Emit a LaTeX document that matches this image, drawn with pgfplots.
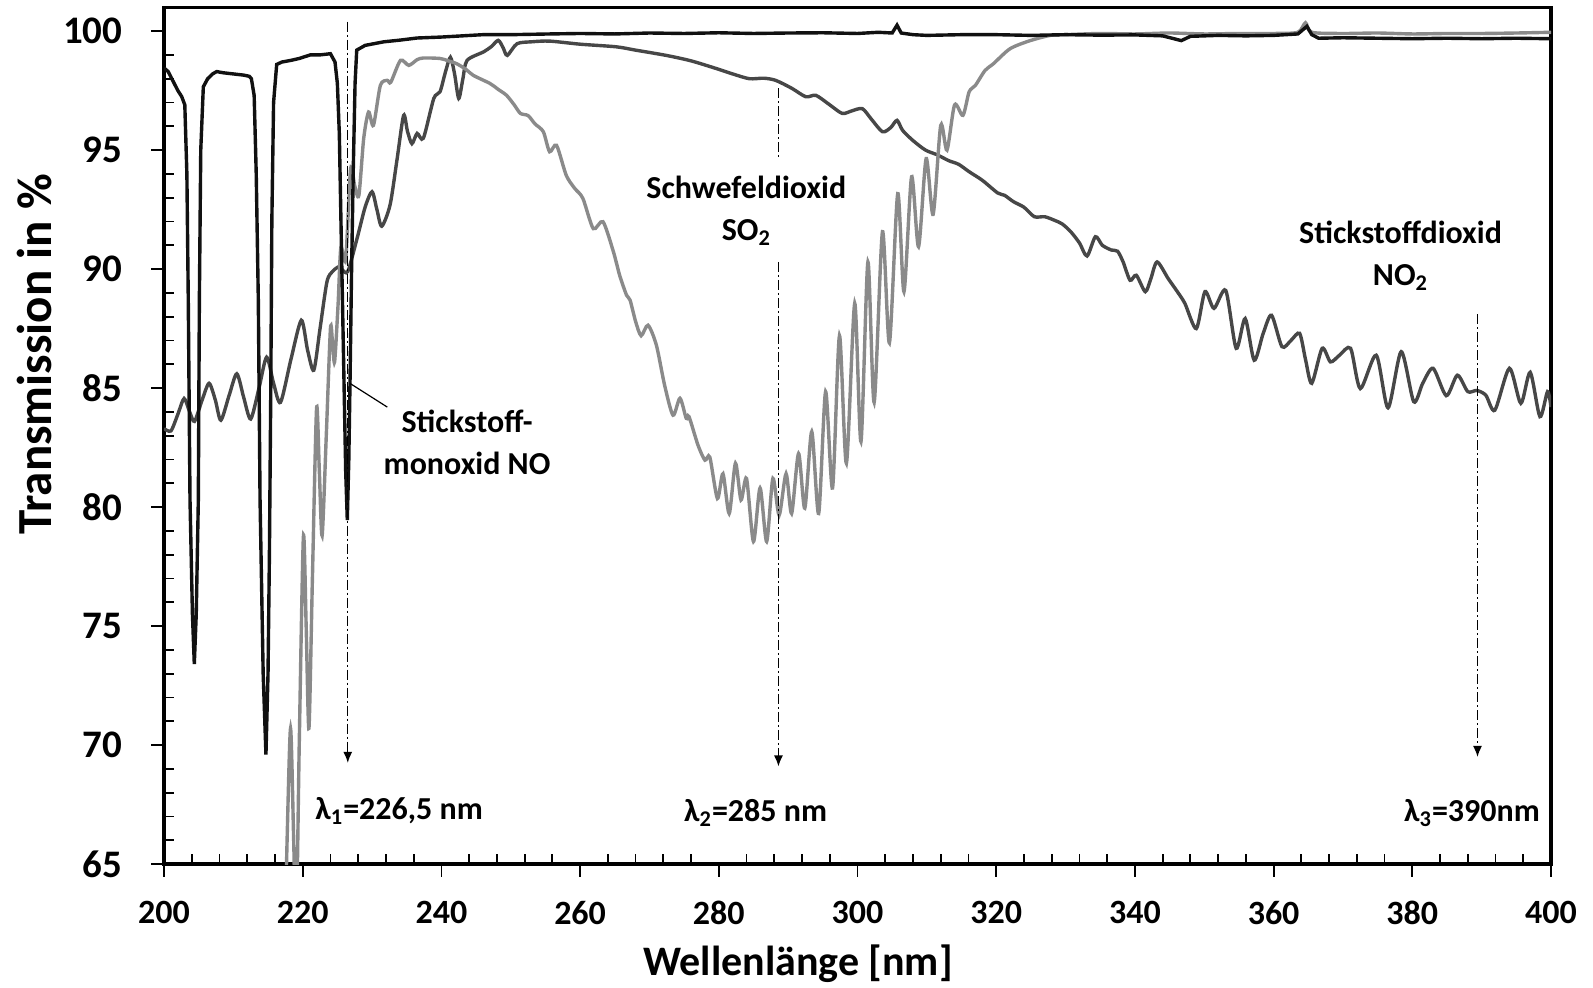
\documentclass[border=0pt]{standalone}
\usepackage{fontspec}
\setmainfont{Carlito}
\usepackage{pgfplots}
\pgfplotsset{compat=1.18}
\usetikzlibrary{arrows.meta}
\definecolor{noc}{HTML}{111111}
\definecolor{notwo}{HTML}{474747}
\definecolor{sotwo}{HTML}{8A8A8A}
\begin{document}
\begin{tikzpicture}
\path[use as bounding box] (0,0) rectangle (796.5pt,493.5pt);
\begin{axis}[
  name=ax, at={(82pt,61.5pt)}, anchor=south west,
  scale only axis, width=693.5pt, height=428.35pt,
  xmin=200, xmax=400, ymin=65, ymax=101,
  xtick={200,220,...,400}, ytick={65,70,...,100},
  minor x tick num=4, minor y tick num=4,
  xtick pos=bottom, ytick pos=left,
  tick align=inside,
  major tick length=-6.4pt, minor tick length=4.8pt,
  axis line style={line width=1.6pt},
  every tick/.style={black, line width=0.9pt},
  /pgf/number format/assume math mode=true,
  xticklabel style={font=\bfseries\fontsize{17}{20}\selectfont, anchor=center, inner sep=0pt, yshift=-24.3pt},
  yticklabel style={font=\bfseries\fontsize{19.5}{22}\selectfont, anchor=east, inner sep=0pt, xshift=-20.6pt},
  xlabel={Wellenlänge [nm]},
  xlabel style={at={(axis description cs:0.457,-0.1296)}, anchor=base, font=\bfseries\fontsize{21}{25}\selectfont},
  ylabel={Transmission in \%},
  ylabel style={at={(axis description cs:-0.0931,0.595)}, anchor=center, font=\bfseries\fontsize{24.5}{28}\selectfont},
]
% NO2 (dark gray)
\addplot[notwo, line width=1.7pt, smooth, tension=0.45] coordinates {
(200,83.3) (201.0,83.2) (202.0,83.9) (202.9,84.56) (203.7,84.0) (204.4,83.6) (205.5,84.5) (206.5,85.2) (207.4,84.5) (208.2,83.65)
(209.4,84.7) (210.5,85.6) (211.5,84.6) (212.5,83.7) (213.7,85.0) (214.8,86.3) (215.8,85.2) (216.8,84.4) (218.3,86.2) (219.8,87.85)
(220.7,86.6) (221.6,85.75) (222.5,87.5) (223.5,89.47) (224.3,89.9) (225.2,90.1) (225.6,90.0) (226.5,89.9) (227.85,91.3) (229.0,92.6)
(230.0,93.25) (230.7,92.5) (231.4,91.8) (232.6,92.7) (233.6,94.6) (234.55,96.46) (235.1,95.8) (235.75,95.27) (236.5,95.7) (237.4,95.5)
(238.9,97.17) (239.8,97.45) (240.6,98.3) (241.3,98.9) (241.9,98.2) (242.5,97.17) (243.1,98.0) (243.7,98.77) (246.1,99.13) (247.2,99.35)
(248.2,99.61) (248.9,99.3) (249.5,98.98) (250.9,99.47) (253,99.55) (255.6,99.58) (260,99.45) (265.2,99.34) (268,99.2) (272.4,98.98)
(276,98.75) (279.6,98.43) (282,98.2) (284.4,98.0) (286.5,98.02) (288.2,97.93) (290.5,97.6) (292.55,97.24) (294,97.3) (296,96.9)
(297.8,96.54) (299.2,96.65) (300.7,96.74) (302,96.3) (303.6,95.77) (304.8,95.95) (305.7,96.25) (306.5,95.83) (308,95.4) (309.8,95.0)
(311.5,94.8) (313.2,94.55) (314.6,94.4) (316.1,94.09) (318,93.73) (320.2,93.2) (321.2,93.1) (322.5,92.83) (324,92.6) (325.5,92.2)
(327,92.2) (328.4,92.05) (329.5,91.9) (330.75,91.57) (332,91.1) (333.1,90.55) (334.3,91.36) (335.3,91.0) (336.6,90.8) (337.5,90.75)
(338.3,90.3) (339.3,89.53) (340.2,89.74) (341.5,89.05) (342.3,89.6) (343.2,90.3) (344.8,89.6) (346.0,89.1) (347.2,88.56) (348.85,87.5)
(350.1,89.05) (351.4,88.35) (353.1,89.1) (354.6,86.67) (355.9,87.92) (357.2,86.17) (358.5,87.3) (359.7,88.06) (361.2,86.74) (362.5,87.0)
(363.75,87.3) (364.6,86.2) (365.5,85.2) (367.0,86.67) (368.2,86.1) (369.5,86.38) (371.1,86.67) (372.5,84.98) (374.8,86.38) (376.5,84.17)
(378.4,86.53) (380.2,84.43) (381.5,85.2) (383.0,85.83) (384.9,84.68) (386.5,85.54) (388.0,84.85) (389.3,84.9) (390.6,84.7) (391.9,84.07)
(394.0,85.83) (395.65,84.36) (397.0,85.66) (398.4,83.8) (399.5,84.85) (400,84.2)
};
% SO2 (light gray)
\addplot[sotwo, line width=1.7pt, smooth, tension=0.45] coordinates {
(217.3,60) (217.75,66) (218.25,70.7) (218.7,66) (219.05,62) (219.5,70) (220.1,78.75) (220.5,75) (220.9,70.7) (221.4,77)
(222.0,84.15) (222.4,81.5) (222.8,78.8) (223.4,83) (224.0,87.5) (224.3,86.9) (224.6,86.1) (225.1,88.5) (225.5,90.9) (226.2,90.4)
(226.9,94.2) (227.5,93.5) (228.1,93.1) (228.8,95.5) (229.5,96.6) (230.2,96.04) (231.2,97.72) (232.2,97.93) (232.7,97.85) (234.1,98.77)
(235.3,98.56) (236.5,98.8) (237.4,98.87) (239.8,98.85) (241.0,98.75) (242.2,98.63) (243.5,98.4) (244.6,98.14) (247.0,97.8) (248.2,97.55)
(249.4,97.3) (250.5,96.9) (251.4,96.54) (252.5,96.45) (253.5,96.1) (254.7,95.77) (255.6,94.93) (256.6,95.2) (258.0,93.94) (259.2,93.4)
(260.4,92.97) (261.9,91.7) (263.3,91.99) (264.8,90.73) (265.7,89.74) (266.7,88.9) (267.2,88.7) (268.0,87.8) (268.8,87.2) (269.8,87.64)
(271.0,86.8) (272.2,85.1) (273.4,83.86) (274.4,84.57) (275.3,83.73) (275.7,83.8) (277.0,82.6) (278.0,81.97) (278.7,82.1) (279.8,80.36)
(280.6,81.4) (281.5,79.73) (282.4,81.84) (283.2,80.3) (284.0,81.2) (285.0,78.55) (285.95,80.8) (286.9,78.55) (287.8,81.2) (288.7,79.66)
(289.7,81.4) (290.5,79.73) (291.5,82.25) (292.4,79.95) (293.4,83.17) (294.4,79.73) (295.4,84.85) (296.4,80.8) (297.4,87.2) (298.4,81.84)
(299.6,88.56) (300.5,82.75) (301.5,90.3) (302.4,84.4) (303.6,91.57) (304.6,86.9) (305.8,93.17) (306.7,89.05) (307.8,93.88) (308.8,90.94)
(309.9,94.64) (310.9,92.3) (312.0,96.04) (312.9,95.0) (314.0,96.9) (315.2,96.46) (316.1,97.45) (317.0,97.72) (318.4,98.35) (319.6,98.63)
(322.0,99.26) (324.9,99.6) (327.8,99.82) (330,99.85) (335,99.9) (340,99.88) (345,99.92) (350,99.88) (355,99.9) (360,99.9)
(363.5,99.95) (364.6,100.35) (365.5,99.95) (370,99.9) (375,99.92) (380,99.88) (385,99.9) (390,99.9) (395,99.92) (400,99.95)
};
% NO (black)
\addplot[noc, line width=1.7pt] coordinates {
(200,98.45) (200.6,98.3) (201.3,97.9) (202.0,97.5) (202.55,97.25) (203.0,96.9) (203.3,94) (203.5,88.7) (203.75,80.3) (204.1,75.5)
(204.37,73.4) (204.65,75.5) (204.95,80.3) (205.1,88.7) (205.3,95) (205.67,97.66) (206.3,98.0) (207.0,98.2) (207.6,98.3) (208.5,98.25)
(210,98.2) (211.5,98.15) (212.3,98.1) (212.6,98.0) (213.0,97.3) (213.3,94) (213.6,88.7) (213.85,80.3) (214.3,73) (214.7,69.6)
(215.0,73) (215.2,78) (215.4,85) (215.55,92) (215.8,97) (216.25,98.6) (217,98.7) (218.3,98.77) (219.5,98.85) (221.1,99.0)
(222.5,99.0) (224.0,99.05) (224.66,98.7) (225.0,97.8) (225.28,95.7) (225.62,90.4) (225.96,85.2) (226.2,81.5) (226.43,79.45) (226.65,82)
(226.82,85.2) (227.05,90) (227.3,94.3) (227.55,97.8) (227.79,99.2) (229,99.4) (231.7,99.55) (234,99.62) (236.5,99.71) (240,99.75)
(243,99.8) (246,99.85) (250,99.85) (255.6,99.88) (260,99.9) (265,99.88) (270,99.92) (275,99.9) (280,99.93) (285,99.9)
(290,99.92) (295,99.93) (300,99.9) (303,99.95) (305,99.92) (305.7,100.25) (306.3,99.92) (308,99.85) (310,99.82) (315,99.85)
(320,99.85) (325,99.82) (330,99.85) (335,99.83) (340,99.84) (344,99.8) (346.7,99.6) (348,99.78) (352,99.82) (356,99.8)
(360,99.82) (363.5,99.88) (364.8,100.2) (365.5,99.85) (366.5,99.7) (370,99.72) (375,99.7) (380,99.68) (385,99.7) (390,99.68)
(395,99.7) (400,99.68)
};
% wavelength markers
\addplot[black, line width=0.7pt, dash pattern=on 5pt off 1.5pt on 1pt off 1.5pt, -{Latex[length=5.5pt,width=4.5pt]}]
  coordinates {(226.5,100.4) (226.5,69.25)};
\addplot[black, line width=0.7pt, dash pattern=on 5pt off 1.5pt on 1pt off 1.5pt]
  coordinates {(288.6,97.6) (288.6,94.6)};
\addplot[black, line width=0.7pt, dash pattern=on 5pt off 1.5pt on 1pt off 1.5pt, -{Latex[length=5.5pt,width=4.5pt]}]
  coordinates {(288.6,90.3) (288.6,69.1)};
\addplot[black, line width=0.7pt, dash pattern=on 5pt off 1.5pt on 1pt off 1.5pt, -{Latex[length=5.5pt,width=4.5pt]}]
  coordinates {(389.4,88.1) (389.4,69.5)};
\addplot[black, line width=0.6pt] coordinates {(226.8,85.2) (232.2,84.2)};
% annotations
\node[font=\bfseries\fontsize{16}{21}\selectfont, align=center] at (axis cs:283.97,92.44) {Schwefeldioxid\\SO\textsubscript{2}};
\node[font=\bfseries\fontsize{16}{21}\selectfont, align=center] at (axis cs:378.3,90.55) {Stickstoffdioxid\\NO\textsubscript{2}};
\node[font=\bfseries\fontsize{16}{21}\selectfont, align=center] at (axis cs:243.7,82.73) {Stickstoff-\\monoxid NO};
\node[font=\bfseries\fontsize{16}{20}\selectfont] at (axis cs:233.9,67.23) {λ\textsubscript{1}=226,5 nm};
\node[font=\bfseries\fontsize{16}{20}\selectfont] at (axis cs:285.3,67.14) {λ\textsubscript{2}=285 nm};
\node[font=\bfseries\fontsize{16}{20}\selectfont] at (axis cs:388.6,67.14) {λ\textsubscript{3}=390nm};
\end{axis}
\end{tikzpicture}
\end{document}
